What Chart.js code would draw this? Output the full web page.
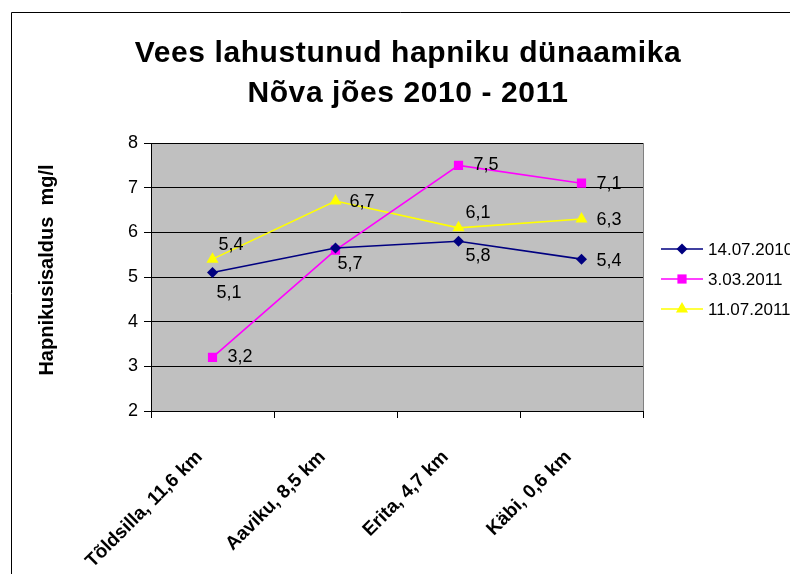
<!DOCTYPE html>
<html>
<head>
<meta charset="utf-8">
<script src="https://cdn.jsdelivr.net/npm/chart.js"></script>
<style>
    html, body { margin: 0; padding: 0; background: #fff; }
    canvas { display: block; }
</style>
</head>
<body>
<canvas id="oxygenChart" width="790" height="574"></canvas>
<script>
    // Chart data
    const sites = ['Tõldsilla, 11,6 km', 'Aaviku, 8,5 km', 'Erita, 4,7 km', 'Käbi, 0,6 km'];
    const seriesNames = ['14.07.2010', '3.03.2011', '11.07.2011'];
    const july2010 = [5.1, 5.65, 5.8, 5.4];
    const march2011 = [3.2, 5.6, 7.5, 7.1];
    const july2011 = [5.4, 6.7, 6.1, 6.3];
    const yTicks = [2, 3, 4, 5, 6, 7, 8];

    const FONT = "'Liberation Sans', Arial, Helvetica, sans-serif";

    // label placement per series (dx, dy from the point), null = no label
    const labelPlacement = [
        [[4, 20], [2, 16], [7, 15], [15, 2]],
        [[15, 0], null, [15, 0], [15, 1]],
        [[6, -14], [14, 1], [7, -15], [15, 1]]
    ];

    function drawMarker(ctx, style, x, y, r) {
        ctx.beginPath();
        if (style === 'rectRot') {
            ctx.moveTo(x, y - r); ctx.lineTo(x + r, y); ctx.lineTo(x, y + r); ctx.lineTo(x - r, y);
        } else if (style === 'rect') {
            const s = r * Math.SQRT1_2;
            ctx.rect(x - s, y - s, s * 2, s * 2);
        } else {
            ctx.moveTo(x, y - r); ctx.lineTo(x + r * 0.866, y + r * 0.5); ctx.lineTo(x - r * 0.866, y + r * 0.5);
        }
        ctx.closePath();
        ctx.fill();
    }

    const chartDecor = {
        id: 'chartDecor',
        beforeDraw(chart) {
            const { ctx, chartArea: a } = chart;
            ctx.save();
            ctx.fillStyle = '#fff';
            ctx.fillRect(0, 0, chart.width, chart.height);
            ctx.fillStyle = '#c0c0c0';
            ctx.fillRect(a.left, a.top, a.right - a.left, a.bottom - a.top);
            ctx.strokeStyle = '#808080';
            ctx.lineWidth = 1;
            ctx.beginPath();
            ctx.moveTo(a.right + 0.5, a.top);
            ctx.lineTo(a.right + 0.5, a.bottom);
            ctx.stroke();
            ctx.restore();
        },
        afterDraw(chart) {
            const { ctx } = chart;
            ctx.save();

            // outer frame
            ctx.strokeStyle = '#000';
            ctx.lineWidth = 1;
            ctx.beginPath();
            ctx.moveTo(11.5, chart.height);
            ctx.lineTo(11.5, 12.5);
            ctx.lineTo(chart.width, 12.5);
            ctx.stroke();

            // title
            ctx.fillStyle = '#000';
            ctx.textAlign = 'center';
            ctx.textBaseline = 'middle';
            ctx.font = 'bold 30px ' + FONT;
            ctx.letterSpacing = '0.6px';
            ctx.fillText('Vees lahustunud hapniku dünaamika', 408, 54);
            ctx.fillText('Nõva jões 2010 - 2011', 408, 94);
            ctx.letterSpacing = '0px';

            // y axis title
            ctx.save();
            ctx.translate(47, 270);
            ctx.rotate(-Math.PI / 2);
            ctx.font = 'bold 20px ' + FONT;
            ctx.fillText('Hapnikusisaldus  mg/l', 0, 0);
            ctx.restore();

            // data labels
            ctx.font = '18px ' + FONT;
            ctx.textAlign = 'left';
            chart.data.datasets.forEach((ds, i) => {
                const meta = chart.getDatasetMeta(i);
                meta.data.forEach((pt, j) => {
                    const place = labelPlacement[i][j];
                    if (!place) return;
                    const txt = ds.data[j].toFixed(1).replace('.', ',');
                    ctx.fillText(txt, pt.x + place[0], pt.y + place[1]);
                });
            });

            // legend
            ctx.font = '17px ' + FONT;
            chart.data.datasets.forEach((ds, i) => {
                const y = 249 + i * 30;
                ctx.strokeStyle = ds.borderColor;
                ctx.lineWidth = 1.5;
                ctx.beginPath();
                ctx.moveTo(661, y);
                ctx.lineTo(703, y);
                ctx.stroke();
                ctx.fillStyle = ds.pointBackgroundColor;
                drawMarker(ctx, ds.pointStyle, 682, y, ds.pointRadius);
                ctx.fillStyle = '#000';
                ctx.fillText(ds.label, 708, y + 1);
            });
            ctx.restore();
        }
    };

    function makeSeries(label, data, color, style, radius) {
        return {
            label: label,
            data: data,
            borderColor: color,
            backgroundColor: color,
            pointBackgroundColor: color,
            pointBorderColor: color,
            pointBorderWidth: 0,
            pointStyle: style,
            pointRadius: radius,
            borderWidth: 1.6,
            tension: 0
        };
    }

    new Chart(document.getElementById('oxygenChart'), {
        type: 'line',
        data: {
            labels: sites,
            datasets: [
                makeSeries(seriesNames[0], july2010, '#000080', 'rectRot', 5.5),
                makeSeries(seriesNames[1], march2011, '#ff00ff', 'rect', 6.5),
                makeSeries(seriesNames[2], july2011, '#ffff00', 'triangle', 7)
            ]
        },
        options: {
            responsive: false,
            devicePixelRatio: 1,
            animation: false,
            layout: { padding: { left: 60, right: 147, top: 143, bottom: 0 } },
            plugins: {
                legend: { display: false },
                title: { display: false },
                tooltip: { enabled: false }
            },
            scales: {
                x: {
                    offset: true,
                    afterFit(s) { s.height = 163; },
                    grid: { offset: true, drawOnChartArea: false, color: '#000', tickLength: 7 },
                    border: { color: '#000', width: 1 },
                    ticks: {
                        color: '#000',
                        font: { family: FONT, size: 19, weight: 'bold' },
                        minRotation: 45,
                        maxRotation: 45,
                        autoSkip: false,
                        labelOffset: -13,
                        padding: 28
                    }
                },
                y: {
                    min: yTicks[0],
                    max: yTicks[yTicks.length - 1],
                    afterFit(s) { s.width = 91; },
                    afterBuildTicks(s) { s.ticks = yTicks.map(v => ({ value: v })); },
                    grid: { color: '#000', lineWidth: 1, tickLength: 7 },
                    border: { color: '#000', width: 1 },
                    ticks: {
                        color: '#000',
                        font: { family: FONT, size: 18 },
                        padding: 6
                    }
                }
            }
        },
        plugins: [chartDecor]
    });
</script>
</body>
</html>
